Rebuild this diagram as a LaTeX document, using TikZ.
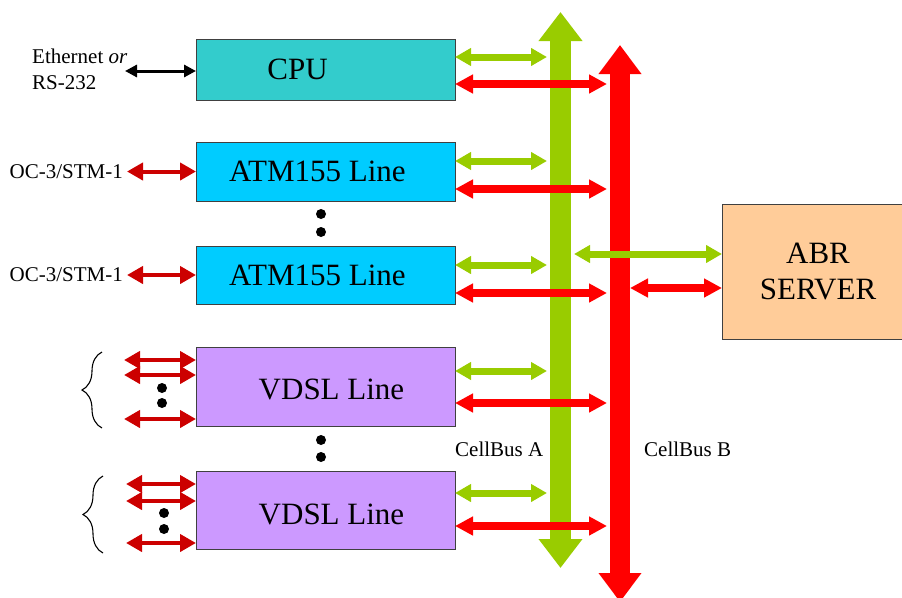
\documentclass[tikz,border=0pt]{standalone}
\usepackage{fontspec}
\setmainfont{Liberation Serif}
\usetikzlibrary{positioning,arrows.meta,decorations.pathreplacing}
\usepackage{xcolor}
\definecolor{cputeal}{HTML}{33CCCC}
\definecolor{atmcyan}{HTML}{00CCFF}
\definecolor{vdsllilac}{HTML}{CC99FF}
\definecolor{abrpeach}{HTML}{FFCC99}
\definecolor{busgreen}{HTML}{99CC00}
\definecolor{busred}{HTML}{FF0000}
\definecolor{portred}{HTML}{CC0000}

\begin{document}
\begin{tikzpicture}[
    x=1pt, y=-1pt,
    box/.style={
        rectangle, draw=black!75, line width=1pt, minimum width=259pt,
        inner sep=0pt, outer sep=0pt
    },
    bigtext/.style={font=\fontsize{31}{36}\selectfont},
    smalltext/.style={font=\fontsize{21}{26}\selectfont, inner sep=0pt},
    buslineA/.style={busgreen, line width=21pt,
        {Triangle[width=42pt,length=29pt]}-{Triangle[width=42pt,length=29pt]}},
    buslineB/.style={busred, line width=20pt,
        {Triangle[width=41pt,length=29pt]}-{Triangle[width=41pt,length=29pt]}},
    gport/.style={busgreen, line width=7pt,
        {Triangle[width=17pt,length=16pt]}-{Triangle[width=17pt,length=16pt]}},
    rport/.style={busred, line width=8pt,
        {Triangle[width=18pt,length=18pt]}-{Triangle[width=18pt,length=18pt]}},
    lport/.style={portred, line width=4pt,
        {Triangle[width=17pt,length=16pt]}-{Triangle[width=17pt,length=16pt]}},
    ethport/.style={black, line width=3pt,
        {Triangle[width=12pt,length=12pt]}-{Triangle[width=12pt,length=12pt]}},
    brc/.style={decorate, decoration={brace, amplitude=20pt}, line width=1.1pt}
]
\useasboundingbox (0,0) rectangle (902,597);

% line cards
\node[box, fill=cputeal, minimum height=61pt,
      label={[bigtext, xshift=-28pt]center:CPU}] (cpu) at (325.5,69.5) {};
\node[box, fill=atmcyan, minimum height=59pt, below=42pt of cpu,
      label={[bigtext, xshift=-8pt]center:ATM155 Line}] (atmA) {};
\node[box, fill=atmcyan, minimum height=58pt, below=45pt of atmA,
      label={[bigtext, xshift=-8pt]center:ATM155 Line}] (atmB) {};
\node[box, fill=vdsllilac, minimum height=79pt, below=43pt of atmB,
      label={[bigtext, xshift=6pt, yshift=-3pt]center:VDSL Line}] (vdslA) {};
\node[box, fill=vdsllilac, minimum height=78pt, below=45pt of vdslA,
      label={[bigtext, xshift=6pt, yshift=-4pt]center:VDSL Line}] (vdslB) {};
\node[box, fill=abrpeach, minimum width=182pt, minimum height=135pt,
      label={[bigtext, align=center, xshift=5pt]center:ABR\\SERVER}] (abr) at (813,271.5) {};

% cell buses
\coordinate (busAtop) at (560.5,12);
\coordinate (busAbot) at (560.5,568);
\coordinate (busBtop) at (620,45);
\coordinate (busBbot) at (620,602);
\draw[buslineA] (busAbot) -- (busAtop);
\draw[buslineB] (busBbot) -- (busBtop);
\node[smalltext, anchor=west] (labA) at (455,449) {CellBus A};
\node[smalltext, anchor=west] (labB) at (644,449) {CellBus B};

\coordinate (ga) at (547,0);
\coordinate (rb) at (607,0);
\coordinate (ga2) at (574,0);
\coordinate (rb2) at (630,0);
\foreach \b/\g/\r in {cpu/57/84, atmA/161/189, atmB/265/293, vdslA/371/403, vdslB/493/526} {
    \draw[gport] (\b.east |- 0,\g) -- (ga |- 0,\g);
    \draw[rport] (\b.east |- 0,\r) -- (rb |- 0,\r);
}
\draw[gport] (ga2 |- 0,254) -- (abr.west |- 0,254);
\draw[rport] (rb2 |- 0,288) -- (abr.west |- 0,288);

% outside ports
\node[smalltext, align=left, anchor=west] (eth) at (32,69) {Ethernet \emph{or}\\RS-232};
\coordinate (ethend) at (125,71);
\draw[ethport] (ethend) -- (cpu.west |- ethend);
\node[smalltext, anchor=east] (ocA) at (123,171.5) {OC-3/STM-1};
\node[smalltext, anchor=east] (ocB) at (123,275) {OC-3/STM-1};
\draw[lport] ([xshift=4pt]ocA.east) -- (atmA.west |- ocA.east);
\draw[lport] ([xshift=4pt]ocB.east) -- (atmB.west |- ocB.east);

\foreach \y in {360,375,419} {
    \coordinate (va\y) at (124,\y);
    \draw[lport] (va\y) -- (vdslA.west |- va\y);
}
\foreach \y in {484,501,543} {
    \coordinate (vb\y) at (126,\y);
    \draw[lport] (vb\y) -- (vdslB.west |- vb\y);
}
\draw[brc] (102,428) -- (102,352);
\draw[brc] (103,553) -- (103,476);

% dots
\foreach \p in {(321,214),(321,232),(321,440),(321,457),(162,388),(162,403),(164,513),(164,529)}
    \fill \p circle (5pt);
\end{tikzpicture}
\end{document}
